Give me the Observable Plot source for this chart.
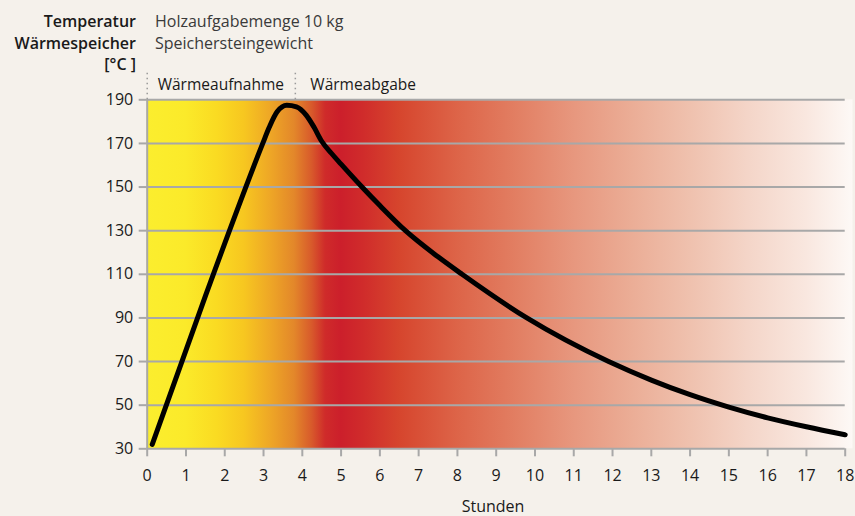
<!DOCTYPE html>
<html><head><meta charset="utf-8">
<script src="https://cdn.jsdelivr.net/npm/d3@7"></script>
<script src="https://cdn.jsdelivr.net/npm/@observablehq/plot@0.6"></script>
<style>
html,body{margin:0;padding:0;background:#f5f1eb;}
#chart{width:855px;height:516px;}
svg{font-family:"Open Sans",sans-serif;}
</style></head><body><div id="chart"></div>
<script>
// Curve: storage temperature (°C) vs hours
const hours = [0.13, 1.5, 2.98, 3.15, 3.35, 3.6, 3.85, 4.1, 4.3, 4.5, 4.75, 5.0, 5.54, 6.0, 6.66, 7.5, 8.12, 9.79, 11.9, 13.0, 14.0, 15.0, 16.0, 17.0, 18.0];
const temps = [32, 100, 170, 177.5, 184.5, 187.5, 186.8, 183, 177.5, 171, 165.5, 160.5, 150, 141.5, 130, 118, 110, 90, 70, 61.5, 54.8, 49.1, 44.2, 40.1, 36.4];

const xTicks = d3.range(0, 19);
const yTicks = [30, 50, 70, 90, 110, 130, 150, 170, 190];

// background heat gradient: [hour, colour]
const gradientStops = [
  [0, "#fbee2e"], [1, "#fbea2a"], [1.8, "#fadb22"], [2.5, "#f7c720"],
  [3.2, "#eea626"], [3.8, "#e3872a"], [4.25, "#d85a2b"], [4.6, "#cf2b2a"],
  [5.0, "#cc1f2b"], [5.6, "#d02c2b"], [6.5, "#d6452d"], [8, "#dd6448"],
  [9.5, "#e27e62"], [11, "#e7977e"], [12.5, "#ebad96"], [14, "#efc1ae"],
  [15.5, "#f4d5c8"], [17, "#f9e7df"], [18.2, "#fdf9f6"]
];
const gradientEnd = 18.2;

const phaseBounds = [0, 3.82];
const phaseLabels = ["Wärmeaufnahme", "Wärmeabgabe"];

const headerLeft = ["Temperatur", "Wärmespeicher", "[°C ]"];
const headerRight = ["Holzaufgabemenge 10 kg", "Speichersteingewicht"];
const xLabel = "Stunden";

const curve = hours.map((h, i) => ({h, t: temps[i]}));
const grey = "#a8a8a8";

const plot = Plot.plot({
  width: 855, height: 516,
  marginLeft: 146.7, marginRight: 10.3, marginTop: 99.3, marginBottom: 67.7,
  style: {background: "transparent", color: "#1a1a1a", fontSize: "16px", fontFamily: "Open Sans, sans-serif"},
  x: {domain: [0, 18]},
  y: {domain: [30, 190]},
  marks: [
    Plot.rect([{x1: 0, x2: gradientEnd, y1: 30, y2: 190}], {x1: "x1", x2: "x2", y1: "y1", y2: "y2", fill: "url(#heat)"}),
    Plot.gridY(yTicks, {stroke: grey, strokeOpacity: 1, strokeWidth: 2}),
    Plot.ruleX([0], {stroke: grey, strokeWidth: 2}),
    Plot.axisY(yTicks, {tickSize: 8, tickPadding: 6, stroke: grey, strokeWidth: 2, label: null, fontSize: 16}),
    Plot.axisX(xTicks, {tickSize: 8, tickPadding: 13, stroke: grey, strokeWidth: 2, label: null, fontSize: 16}),
    Plot.ruleX(phaseBounds, {y1: 190, y2: 203.5, stroke: "#9a9a9a", strokeWidth: 1.5, strokeDasharray: "1.5,3.5"}),
    Plot.text([phaseLabels[0]], {x: [phaseBounds[0]], y: [190], dx: 10.5, dy: -10, textAnchor: "start", lineAnchor: "bottom", fontSize: 15.5, fill: "#1a1a1a"}),
    Plot.text([phaseLabels[1]], {x: [phaseBounds[1]], y: [190], dx: 15, dy: -10, textAnchor: "start", lineAnchor: "bottom", fontSize: 15.5, fill: "#1a1a1a"}),
    Plot.line(curve, {x: "h", y: "t", curve: "monotone-x", stroke: "#000", strokeWidth: 5, strokeLinecap: "round", strokeLinejoin: "round"})
  ]
});

const svg = d3.select(plot);
const defs = svg.insert("defs", ":first-child");
const lg = defs.append("linearGradient").attr("id", "heat").attr("x1", "0").attr("x2", "1").attr("y1", "0").attr("y2", "0");
gradientStops.forEach(([h, c]) => lg.append("stop").attr("offset", h / gradientEnd).attr("stop-color", c));

const hl = svg.append("g").attr("font-size", 16).attr("fill", "#1a1a1a").attr("font-weight", 600).attr("text-anchor", "end");
const leftBase = [27, 48.5, 69.5];
headerLeft.forEach((s, i) => hl.append("text").attr("x", 136).attr("y", leftBase[i]).text(s));
const hr = svg.append("g").attr("font-size", 16).attr("fill", "#3a3a3a").attr("text-anchor", "start");
headerRight.forEach((s, i) => hr.append("text").attr("x", 155).attr("y", leftBase[i]).text(s));
svg.append("text").attr("x", 493).attr("y", 512).attr("text-anchor", "middle").attr("font-size", 16).attr("fill", "#1a1a1a").text(xLabel);

document.getElementById("chart").appendChild(plot);
</script></body></html>
